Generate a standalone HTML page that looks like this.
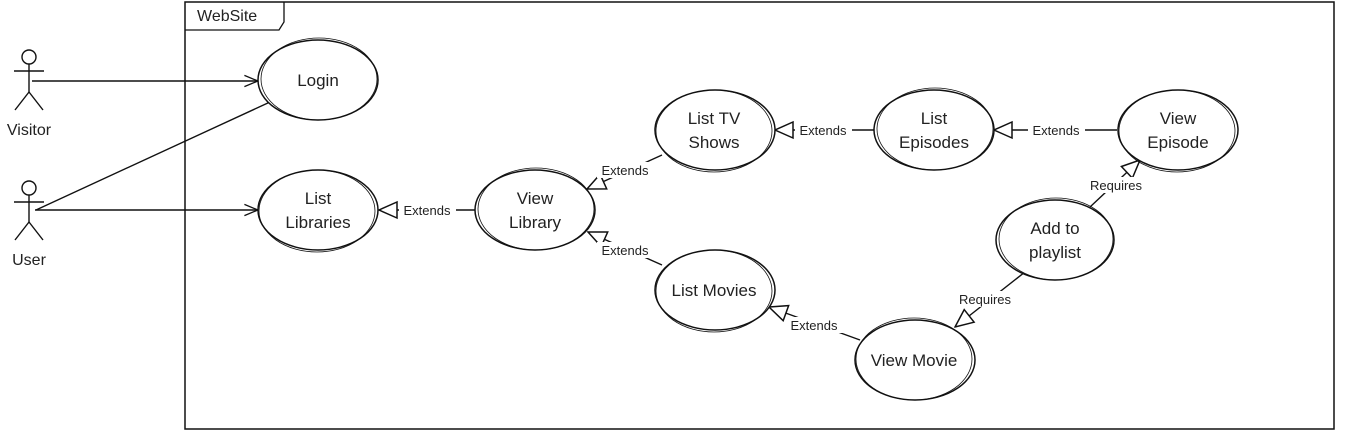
<!DOCTYPE html>
<html><head><meta charset="utf-8"><style>
html,body{margin:0;padding:0;background:#fff;width:1346px;height:442px;overflow:hidden}
text{font-family:"Liberation Sans",sans-serif;fill:#222}
</style></head><body>
<svg width="1346" height="442" viewBox="0 0 1346 442" xmlns="http://www.w3.org/2000/svg">
<defs>
<marker id="tri" viewBox="0 0 20 20" refX="19" refY="10" markerWidth="20" markerHeight="20" markerUnits="userSpaceOnUse" orient="auto">
<path d="M1,2 L19,10 L1,18 Z" fill="#fff" stroke="#111" stroke-width="1.5"/>
</marker>
<marker id="open" viewBox="0 0 20 20" refX="19" refY="10" markerWidth="16" markerHeight="16" markerUnits="userSpaceOnUse" orient="auto">
<path d="M2,3 L19,10 L2,17" fill="none" stroke="#111" stroke-width="1.6"/>
</marker>
</defs>
<!-- frame -->
<rect x="185" y="2" width="1149" height="427" fill="none" stroke="#111" stroke-width="1.5"/>
<path d="M185,30 L279,30 L284,22 L284,2" fill="none" stroke="#111" stroke-width="1.3"/>
<text x="197" y="21" font-size="16">WebSite</text>
<!-- actors -->
<g stroke="#111" stroke-width="1.4" fill="none">
<circle cx="29" cy="57" r="7"/><line x1="29" y1="64" x2="29" y2="92"/><line x1="14" y1="71" x2="44" y2="71"/><line x1="29" y1="92" x2="15" y2="110"/><line x1="29" y1="92" x2="43" y2="110"/>
<circle cx="29" cy="188" r="7"/><line x1="29" y1="195" x2="29" y2="222"/><line x1="14" y1="202" x2="44" y2="202"/><line x1="29" y1="222" x2="15" y2="240"/><line x1="29" y1="222" x2="43" y2="240"/>
</g>
<text x="29" y="135" font-size="16" text-anchor="middle">Visitor</text>
<text x="29" y="265" font-size="16" text-anchor="middle">User</text>
<!-- edges -->
<g stroke="#111" stroke-width="1.4" fill="none">
<line x1="32" y1="81" x2="258" y2="81" marker-end="url(#open)"/>
<line x1="35" y1="210" x2="258" y2="210" marker-end="url(#open)"/>
<line x1="270" y1="102" x2="36" y2="210"/>
<line x1="475" y1="210" x2="379" y2="210" marker-end="url(#tri)"/>
<line x1="662" y1="155" x2="587" y2="189" marker-end="url(#tri)"/>
<line x1="662" y1="265" x2="588" y2="232" marker-end="url(#tri)"/>
<line x1="874" y1="130" x2="775" y2="130" marker-end="url(#tri)"/>
<line x1="1117" y1="130" x2="994" y2="130" marker-end="url(#tri)"/>
<line x1="860" y1="340" x2="769" y2="307" marker-end="url(#tri)"/>
<line x1="1025" y1="272" x2="955" y2="327" marker-end="url(#tri)"/>
<line x1="1090" y1="207" x2="1140" y2="160" marker-end="url(#tri)"/>
</g>
<!-- edge labels -->
<g font-size="13">
<rect x="399" y="202" width="57" height="16" fill="#fff"/><text x="427" y="215" text-anchor="middle">Extends</text>
<rect x="597" y="162" width="57" height="16" fill="#fff"/><text x="625" y="175" text-anchor="middle">Extends</text>
<rect x="597" y="242" width="57" height="16" fill="#fff"/><text x="625" y="255" text-anchor="middle">Extends</text>
<rect x="795" y="122" width="57" height="16" fill="#fff"/><text x="823" y="135" text-anchor="middle">Extends</text>
<rect x="1028" y="122" width="57" height="16" fill="#fff"/><text x="1056" y="135" text-anchor="middle">Extends</text>
<rect x="786" y="317" width="57" height="16" fill="#fff"/><text x="814" y="330" text-anchor="middle">Extends</text>
<rect x="952" y="291" width="65" height="16" fill="#fff"/><text x="985" y="304" text-anchor="middle">Requires</text>
<rect x="1084" y="177" width="65" height="16" fill="#fff"/><text x="1116" y="190" text-anchor="middle">Requires</text>
</g>
<!-- nodes -->
<g stroke="#111" stroke-width="1.5" fill="#fff">
<ellipse cx="318" cy="80" rx="60" ry="40"/>
<ellipse cx="318" cy="210" rx="60" ry="40"/>
<ellipse cx="535" cy="210" rx="60" ry="40"/>
<ellipse cx="715" cy="130" rx="60" ry="40"/>
<ellipse cx="934" cy="130" rx="60" ry="40"/>
<ellipse cx="1178" cy="130" rx="60" ry="40"/>
<ellipse cx="1055" cy="240" rx="59" ry="40"/>
<ellipse cx="715" cy="290" rx="60" ry="40"/>
<ellipse cx="915" cy="360" rx="60" ry="40"/>
</g>
<g stroke="#111" stroke-width="0.8" fill="none">
<ellipse cx="319" cy="79" rx="58" ry="41"/>
<ellipse cx="317" cy="211" rx="58" ry="41"/>
<ellipse cx="536" cy="209" rx="58" ry="41"/>
<ellipse cx="714" cy="131" rx="58" ry="41"/>
<ellipse cx="935" cy="129" rx="58" ry="41"/>
<ellipse cx="1177" cy="131" rx="58" ry="41"/>
<ellipse cx="1056" cy="239" rx="57" ry="41"/>
<ellipse cx="714" cy="291" rx="58" ry="41"/>
<ellipse cx="914" cy="359" rx="58" ry="41"/>
</g>
<g font-size="17" text-anchor="middle">
<text x="318" y="86">Login</text>
<text x="318" y="204">List</text><text x="318" y="228">Libraries</text>
<text x="535" y="204">View</text><text x="535" y="228">Library</text>
<text x="714" y="124">List TV</text><text x="714" y="148">Shows</text>
<text x="934" y="124">List</text><text x="934" y="148">Episodes</text>
<text x="1178" y="124">View</text><text x="1178" y="148">Episode</text>
<text x="1055" y="234">Add to</text><text x="1055" y="258">playlist</text>
<text x="714" y="296">List Movies</text>
<text x="914" y="366">View Movie</text>
</g>
</svg>
</body></html>
